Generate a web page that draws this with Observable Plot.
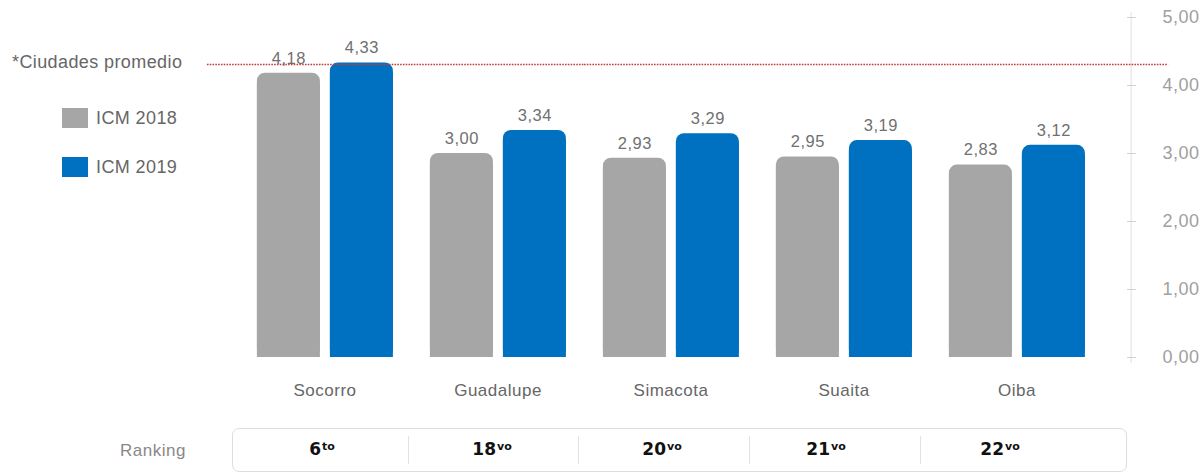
<!DOCTYPE html>
<html>
<head>
<meta charset="utf-8">
<script src="https://cdn.jsdelivr.net/npm/d3@7"></script>
<script src="https://cdn.jsdelivr.net/npm/@observablehq/plot@0.6"></script>
<style>
  html, body { margin: 0; padding: 0; background: #fff; }
  #wrap { position: relative; width: 1204px; height: 473px; font-family: "Liberation Sans", Arial, sans-serif; overflow: hidden; }
  #chart { position: absolute; left: 0; top: 0; }
  .lg { position: absolute; color: #666; font-size: 18px; letter-spacing: 0.4px; line-height: 20px; white-space: nowrap; }
  .sw { position: absolute; width: 26px; height: 20px; }
  .rdiv { position: absolute; top: 436px; height: 28px; width: 1px; background: #e2e2e2; }
  .rk { position: absolute; top: 439px; font-family: "DejaVu Sans", sans-serif; font-weight: bold; font-size: 17px; color: #111; transform: translateX(-50%); white-space: nowrap; }
  .rk sup { font-size: 11px; vertical-align: 5px; margin-left: 1px; }
</style>
</head>
<body>
<div id="wrap">
  <div id="chart"></div>
</div>
<script>
const cities = ["Socorro", "Guadalupe", "Simacota", "Suaita", "Oiba"];
const series = ["ICM 2018", "ICM 2019"];
const icm2018 = [4.18, 3.00, 2.93, 2.95, 2.83];
const icm2019 = [4.33, 3.34, 3.29, 3.19, 3.12];
const promedio = 4.31;
const promedioLabel = "*Ciudades promedio";
const yTicks = [0, 1, 2, 3, 4, 5];
const rankingLabel = "Ranking";
const rankNum = ["6", "18", "20", "21", "22"];
const rankSuf = ["to", "vo", "vo", "vo", "vo"];
const colors = ["#a6a6a6", "#0070c0"];

const data = [];
cities.forEach((c, i) => {
  data.push({city: c, serie: series[0], value: icm2018[i]});
  data.push({city: c, serie: series[1], value: icm2019[i]});
});
const avgRows = cities.map(c => ({city: c, value: promedio}));
const first = cities[0], last = cities[cities.length - 1];

const fmt = d => d3.format(".2f")(d).replace(".", ",");
const ruleStyle = {fx: "city", y: "value", stroke: "#c43c3c", strokeWidth: 1.5, strokeDasharray: "1.6,1.2"};

const chart = Plot.plot({
  width: 1204,
  height: 420,
  marginTop: 17,
  marginBottom: 63,
  marginLeft: 236.1,
  marginRight: 99.1,
  style: {fontFamily: "'Liberation Sans', Arial, sans-serif", fontSize: "16px", letterSpacing: "0.5px", background: "transparent"},
  fx: {domain: cities, padding: 0, label: null},
  x: {domain: series, paddingInner: 0.135, paddingOuter: 0.2416, axis: null},
  y: {domain: [0, 5], axis: null},
  color: {domain: series, range: colors},
  marks: [
    Plot.frame({facet: "super", anchor: "right", dx: 27.6, insetTop: -5, insetBottom: -5, stroke: "#e0e0e0"}),
    Plot.axisY({anchor: "right", ticks: yTicks, tickSize: 9, dx: 23.1, tickFormat: () => "", color: "#d0d0d0", label: null}),
    Plot.axisY({anchor: "right", ticks: yTicks, tickSize: 0, tickPadding: 36, dx: 23.1, tickFormat: fmt, color: "#a0a0a0", fontSize: 18, label: null}),
    Plot.axisFx({anchor: "bottom", tickSize: 0, tickPadding: 26, color: "#666", fontSize: 17, label: null}),
    Plot.barY(data, {fx: "city", x: "serie", y: "value", fill: "serie", rx: 8}),
    Plot.barY(data, {fx: "city", x: "serie", y1: 0, y2: d => d.value - 0.15, fill: "serie"}),
    Plot.text(data, {fx: "city", x: "serie", y: "value", text: d => fmt(d.value), dy: -15, fill: "#707070", fontSize: 16.5}),
    Plot.ruleY(avgRows.filter(d => d.city !== first && d.city !== last), ruleStyle),
    Plot.ruleY(avgRows.filter(d => d.city === first), {...ruleStyle, insetLeft: -31.1}),
    Plot.ruleY(avgRows.filter(d => d.city === last), {...ruleStyle, insetRight: -65.1})
  ]
});
document.getElementById("chart").appendChild(chart);

const wrap = document.getElementById("wrap");
const y = chart.scale("y");
function addDiv(cls, style, html) {
  const d = document.createElement("div");
  if (cls) d.className = cls;
  Object.assign(d.style, style);
  if (html != null) d.innerHTML = html;
  wrap.appendChild(d);
  return d;
}
// legend
addDiv("lg", {left: "12px", top: (y.apply(promedio) - 12) + "px"}, promedioLabel);
series.forEach((s, i) => {
  const top = 108 + i * 49;
  addDiv("sw", {left: "62px", top: top + "px", background: colors[i]});
  addDiv("lg", {left: "96px", top: top + "px"}, s);
});

// ranking row (layout of the table cells)
addDiv("", {position: "absolute", left: "120px", top: "441px", color: "#888", fontSize: "17px", letterSpacing: "0.5px"}, rankingLabel);
addDiv("", {position: "absolute", left: "232px", top: "428px", width: "893px", height: "42px", border: "1px solid #ddd", borderRadius: "7px"});
const cellCenters = [322, 492, 662, 826, 1000];
const cellDividers = [408, 578, 749, 920];
cellDividers.forEach(x => addDiv("rdiv", {left: x + "px"}));
rankNum.forEach((n, i) => addDiv("rk", {left: cellCenters[i] + "px"}, n + "<sup>" + rankSuf[i] + "</sup>"));
</script>
</body>
</html>
